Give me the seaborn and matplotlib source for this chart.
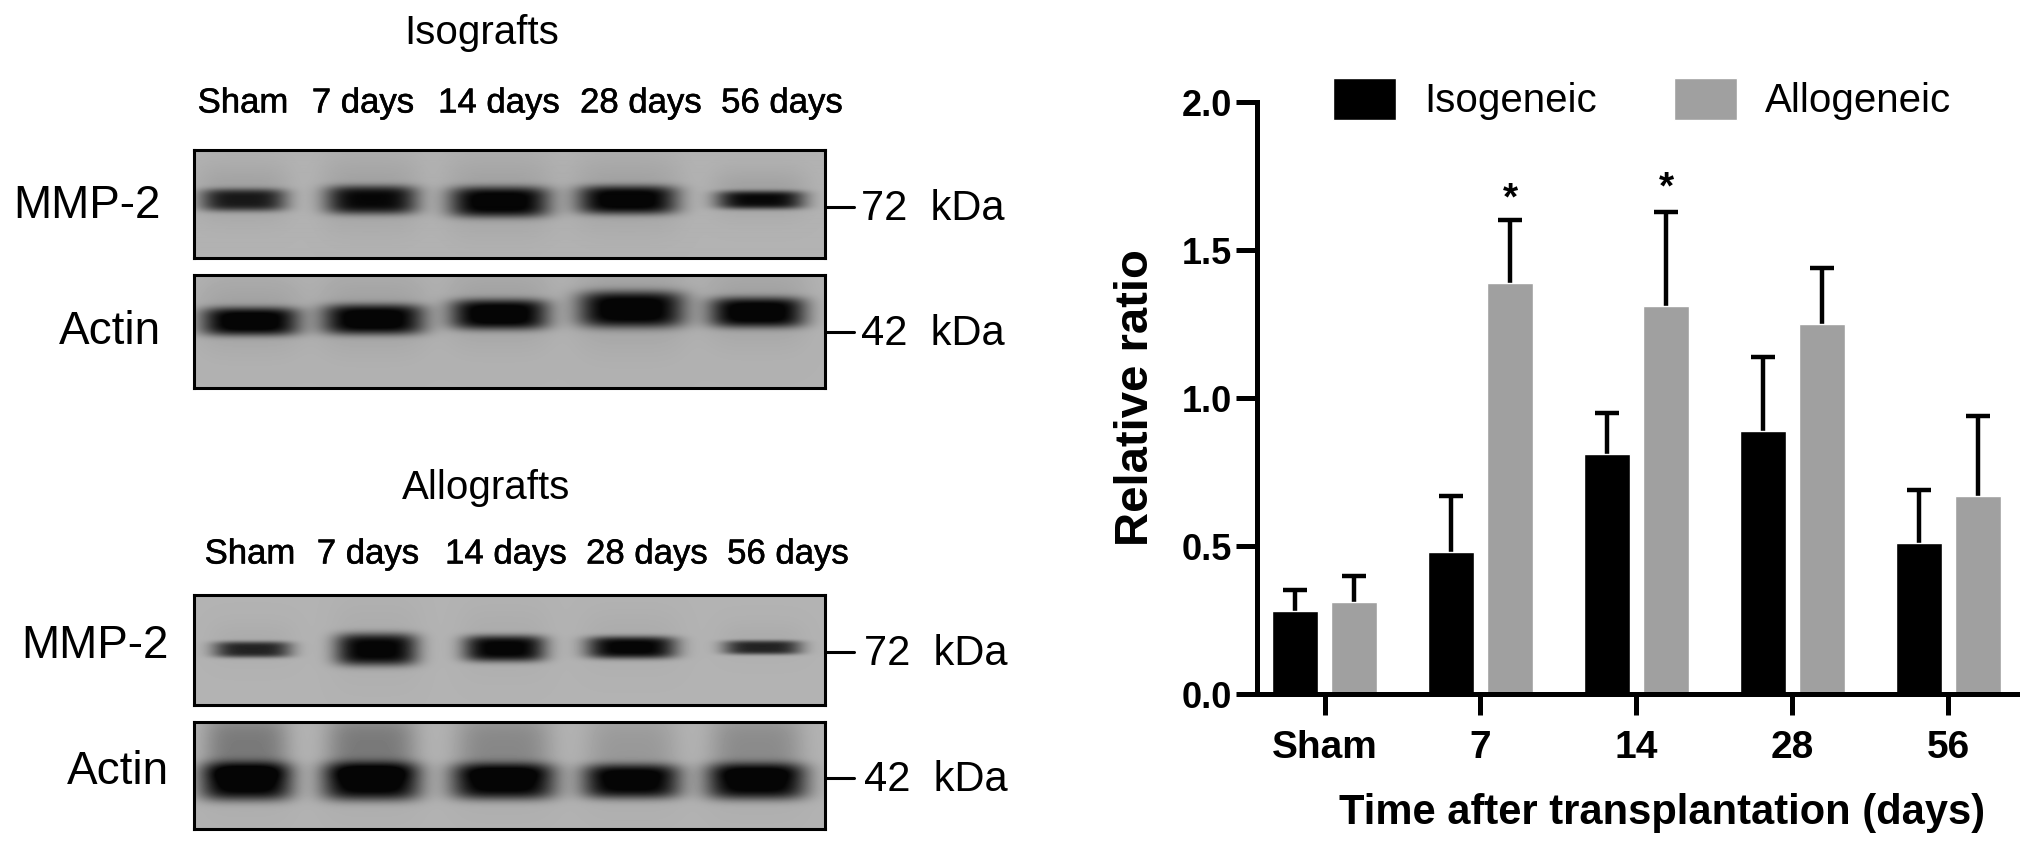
# recreate western blot figure + bar chart
import numpy as np
import pandas as pd
import matplotlib
matplotlib.use("Agg")
import matplotlib.pyplot as plt
import matplotlib.patheffects as pe
import seaborn as sns

# bar chart data
times = ["Sham", "7", "14", "28", "56"]
iso_mean = [0.28, 0.48, 0.81, 0.89, 0.51]
allo_mean = [0.31, 1.39, 1.31, 1.25, 0.67]
iso_err = [0.07, 0.19, 0.14, 0.25, 0.18]
allo_err = [0.09, 0.21, 0.32, 0.19, 0.27]

# blot lanes (pixels of the full image)
lane_labels = ["Sham", "7 days", "14 days", "28 days", "56 days"]
iso_mmp_x = [243, 371, 499, 627, 760]
iso_mmp_w = [43, 46, 50, 50, 44]
iso_mmp_y = [200, 200, 202, 200, 200]
iso_mmp_h = [11, 14, 15, 14, 9]
iso_mmp_s = [0.8, 0.9, 0.98, 0.98, 0.9]

iso_act_x = [250, 373, 499, 631, 757]
iso_act_w = [49, 51, 49, 53, 48]
iso_act_y = [321, 319, 314, 309, 312]
iso_act_h = [14, 15, 15, 18, 15]
iso_act_s = [1, 1, 1, 1, 1]

allo_mmp_x = [252, 376, 504, 631, 762]
allo_mmp_w = [39, 41, 41, 45, 39]
allo_mmp_y = [649, 649, 648, 647, 647]
allo_mmp_h = [8, 16, 13, 11, 7]
allo_mmp_s = [0.8, 1, 1, 1, 0.8]

allo_act_x = [246, 371, 503, 631, 756]
allo_act_w = [46, 49, 52, 49, 50]
allo_act_y = [781, 781, 781, 781, 781]
allo_act_h = [19, 19, 18, 17, 18]
allo_act_s = [1, 1, 1, 1, 1]
allo_smear = [0.3, 0.3, 0.22, 0.12, 0.2]

W, H = 2031, 850
sns.set_style("ticks", {"axes.edgecolor": "black", "text.color": "black", "xtick.color": "black",
                        "ytick.color": "black", "axes.labelcolor": "black"})
plt.rcParams["font.family"] = ["Liberation Sans", "DejaVu Sans"]

fig = plt.figure(figsize=(W / 100, H / 100), dpi=100)


def px_axes(x0, y0, x1, y1):
    return fig.add_axes([x0 / W, 1 - y1 / H, (x1 - x0) / W, (y1 - y0) / H])


def px_text(x, y, s, size, ha="center", **kw):
    fig.text(x / W, 1 - y / H, s, fontsize=size, ha=ha, va="center", color="black", **kw)


# draw one blot as a grey image
def blot(box, xs, ws, ys, hs, strength, smear=None, halo=0.1):
    x0, y0, x1, y1 = box
    ax = px_axes(x0, y0, x1, y1)
    gx, gy = np.meshgrid(np.arange(x0, x1), np.arange(y0, y1))
    dark = np.zeros(gx.shape)
    for i in range(len(xs)):
        dx = (gx - xs[i]) / ws[i]
        dy = (gy - ys[i]) / hs[i]
        dark += strength[i] * np.exp(-dx**4 - dy**4)
        dark += halo * np.exp(-(dx / 1.1) ** 4 - ((gy - ys[i] + 8) / (hs[i] * 2.6)) ** 2)
        if smear is not None:
            dark += smear[i] * np.exp(-(dx / 0.9) ** 4 - ((gy - ys[i] + 32) / 34) ** 4)
    img = 0.68 * (1 - np.clip(dark, 0, 1)) + 0.02
    ax.imshow(img, cmap="gray", vmin=0, vmax=1, aspect="auto", interpolation="bilinear")
    ax.set_xticks([])
    ax.set_yticks([])
    for s in ax.spines.values():
        s.set_linewidth(2.2)
    return ax


blot((194, 150, 825, 258), iso_mmp_x, iso_mmp_w, iso_mmp_y, iso_mmp_h, iso_mmp_s)
blot((194, 275, 825, 388), iso_act_x, iso_act_w, iso_act_y, iso_act_h, iso_act_s)
blot((194, 595, 825, 705), allo_mmp_x, allo_mmp_w, allo_mmp_y, allo_mmp_h, allo_mmp_s, halo=0.04)
blot((194, 722, 825, 829), allo_act_x, allo_act_w, allo_act_y, allo_act_h, allo_act_s, smear=allo_smear, halo=0.04)

# blot texts
thick = [pe.withStroke(linewidth=0.4, foreground="black")]
px_text(482, 33, "Isografts", 29)
px_text(486, 488, "Allografts", 29)
for x, s in zip([243, 363, 499, 641, 782], lane_labels):
    px_text(x, 103, s, 25, path_effects=thick)
for x, s in zip([250, 368, 506, 647, 788], lane_labels):
    px_text(x, 554, s, 25, path_effects=thick)
px_text(161, 206, "MMP-2", 33, ha="right")
px_text(161, 332, "Actin", 33, ha="right")
px_text(169, 646, "MMP-2", 33, ha="right")
px_text(169, 772, "Actin", 33, ha="right")
for y, s, x in [(207, "72  kDa", 861), (332, "42  kDa", 861), (652, "72  kDa", 864), (778, "42  kDa", 864)]:
    px_text(x, y + 2, s, 30, ha="left")
    fig.add_artist(plt.Line2D([825 / W, 854 / W], [1 - y / H, 1 - y / H], color="black", lw=2.2))

# bar chart
df = pd.DataFrame({
    "time": times * 2,
    "ratio": iso_mean + allo_mean,
    "group": ["Isogeneic"] * 5 + ["Allogeneic"] * 5,
})
ax = px_axes(1257, 102, 2017, 694)
sns.barplot(data=df, x="time", y="ratio", hue="group", palette=["black", "#a0a0a0"],
            width=0.76, gap=0.224, errorbar=None, saturation=1, ax=ax)
for bars, err in zip(ax.containers, [iso_err, allo_err]):
    cx = [b.get_x() + b.get_width() / 2 for b in bars]
    top = [b.get_height() for b in bars]
    _, caps, _ = ax.errorbar(cx, top, yerr=[np.zeros(5), err], fmt="none", ecolor="black",
                             elinewidth=3.2, capsize=8.6, capthick=3.2, zorder=0.5)
    # only the upper cap is drawn in the original
    caps[0].set_visible(False)

ax.set_xlim(-0.433, 4.44)
ax.set_ylim(0, 2)
ax.set_yticks([0, 0.5, 1.0, 1.5, 2.0])
ax.set_yticklabels(["0.0", "0.5", "1.0", "1.5", "2.0"], fontsize=26, fontweight="bold")
ax.set_xticks(range(5))
ax.set_xticklabels(times, fontsize=28, fontweight="bold")
ax.tick_params(axis="both", width=3.6, length=15, pad=3)
ax.tick_params(axis="x", pad=11)
ax.spines["top"].set_visible(False)
ax.spines["right"].set_visible(False)
ax.spines["left"].set_linewidth(3.6)
ax.spines["bottom"].set_linewidth(3.6)
ax.set_xlabel("")
ax.set_ylabel("")
fig.text(1662 / W, 1 - 813 / H, "Time after transplantation (days)", fontsize=30,
         fontweight="bold", ha="center", va="center")
fig.text(1136 / W, 1 - 398 / H, "Relative ratio", fontsize=34, fontweight="bold",
         rotation=90, ha="center", va="center")

# significance stars
for x, y in [(1.19, 1.672), (2.19, 1.708)]:
    ax.text(x, y, "*", fontsize=28, fontweight="bold", ha="center", va="center")

handles, labels = ax.get_legend_handles_labels()
ax.legend(handles, labels, loc="center left", bbox_to_anchor=(1333 / W, 1 - 99 / H),
          bbox_transform=fig.transFigure, ncol=2, frameon=False, fontsize=29, borderpad=0,
          borderaxespad=0, handlelength=1.57, handleheight=1.25, handletextpad=0.7,
          columnspacing=1.9)

fig.savefig("out.png", dpi=100, facecolor="white")
